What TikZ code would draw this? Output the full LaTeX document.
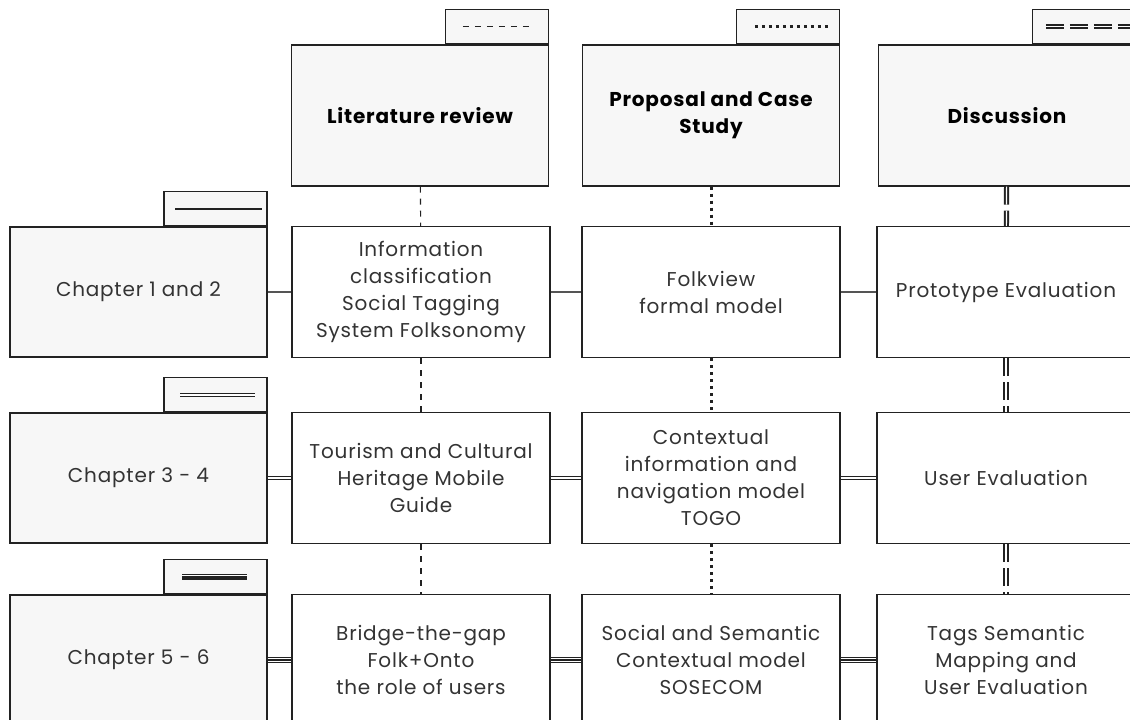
\documentclass[tikz,border=0pt]{standalone}
\usepackage{fontspec}
\setmainfont{Poppins}[LetterSpace=4]
\usetikzlibrary{positioning}
\definecolor{folderfill}{HTML}{F7F7F7}
\definecolor{ink}{HTML}{222222}
\definecolor{txt}{HTML}{333333}
\definecolor{linkgray}{HTML}{555555}

\begin{document}
\begin{tikzpicture}[x=1pt,y=-1pt,
    every node/.style={font=\fontsize{20}{27}\selectfont},
    folder/.style={draw=ink, line width=1.2pt, fill=folderfill,
      minimum width=257pt, minimum height=141pt, align=center},
    header/.style={folder, font=\fontsize{20}{27}\selectfont\bfseries},
    chapter/.style={folder, minimum height=130pt, text=txt},
    tab/.style={draw=ink, line width=1.2pt, fill=folderfill,
      minimum width=103pt, minimum height=34pt, inner sep=0pt, anchor=south east},
    box/.style={draw=ink, line width=1.2pt, fill=white,
      minimum width=258pt, minimum height=131pt, align=center, text=txt},
    dashline/.style={ink, line width=1.1pt, dash pattern=on 6pt off 6pt},
    dotline/.style={ink, line width=3pt, dash pattern=on 3pt off 4pt},
    ddashline/.style={ink, line width=2pt, double=white, double distance=1.2pt,
      dash pattern=on 18pt off 6pt},
    singleline/.style={linkgray, line width=1.5pt},
    doubleline/.style={ink, line width=1pt, double=white, double distance=1.8pt},
    tripleline/.style={ink, line width=5.6pt,
      postaction={draw, white, line width=3.2pt},
      postaction={draw, ink, line width=1.4pt}}
  ]
  \useasboundingbox (0,0) rectangle (1130,720);
  \clip (0,0) rectangle (1130,720);

  % headers
  \node[header] (lit) at (420,115.5) {Literature review};
  \node[header] (prop) at (711,115.5) {Proposal and Case\\Study};
  \node[header] (disc) at (1007,115.5) {Discussion};
  \node[tab] (littab) at (lit.north east) {};
  \node[tab] (proptab) at (prop.north east) {};
  \node[tab] (disctab) at (disc.north east) {};
  \draw[dashline] ([xshift=18pt]littab.west) -- ([xshift=-18pt]littab.east);
  \draw[dotline] ([xshift=19pt]proptab.west) -- ([xshift=-11pt]proptab.east);
  \draw[ddashline] ([xshift=14pt]disctab.west) -- ([xshift=-4pt]disctab.east);

  % chapters
  \node[chapter] (ch12) at (138.5,292) {Chapter 1 and 2};
  \node[chapter] (ch34) at (138.5,478) {Chapter 3 - 4};
  \node[chapter] (ch56) at (138.5,660) {Chapter 5 - 6};
  \node[tab] (ch12tab) at (ch12.north east) {};
  \node[tab] (ch34tab) at (ch34.north east) {};
  \node[tab] (ch56tab) at (ch56.north east) {};
  \draw[singleline, ink] ([xshift=12pt]ch12tab.west) -- ([xshift=-6pt]ch12tab.east);
  \draw[doubleline] ([xshift=17pt]ch34tab.west) -- ([xshift=-13pt]ch34tab.east);
  \draw[tripleline] ([xshift=19pt]ch56tab.west) -- ([xshift=-21pt]ch56tab.east);

  % contents
  \node[box] (b11) at (421,292) {Information\\classification\\Social Tagging\\System Folksonomy};
  \node[box] (b12) at (711,292) {Folkview\\formal model};
  \node[box] (b13) at (1006,292) {Prototype Evaluation};
  \node[box] (b21) at (421,478) {Tourism and Cultural\\Heritage Mobile\\Guide};
  \node[box] (b22) at (711,478) {Contextual\\information and\\navigation model\\TOGO};
  \node[box] (b23) at (1006,478) {User Evaluation};
  \node[box] (b31) at (421,660) {Bridge-the-gap\\Folk+Onto\\the role of users};
  \node[box] (b32) at (711,660) {Social and Semantic\\Contextual model\\SOSECOM};
  \node[box] (b33) at (1006,660) {Tags Semantic\\Mapping and\\User Evaluation};

  \begin{scope}
    \draw[dashline] (lit) -- (b11);
    \draw[dashline] (b11) -- (b21);
    \draw[dashline] (b21) -- (b31);
    \draw[dotline] (prop) -- (b12);
    \draw[dotline] (b12) -- (b22);
    \draw[dotline] (b22) -- (b32);
    \draw[ddashline] (disc) -- (b13);
    \draw[ddashline] (b13) -- (b23);
    \draw[ddashline] (b23) -- (b33);
    \draw[singleline] (ch12) -- (b11);
    \draw[singleline] (b11) -- (b12);
    \draw[singleline] (b12) -- (b13);
    \draw[doubleline] (ch34) -- (b21);
    \draw[doubleline] (b21) -- (b22);
    \draw[doubleline] (b22) -- (b23);
    \draw[tripleline] (ch56) -- (b31);
    \draw[tripleline] (b31) -- (b32);
    \draw[tripleline] (b32) -- (b33);
  \end{scope}
\end{tikzpicture}
\end{document}
